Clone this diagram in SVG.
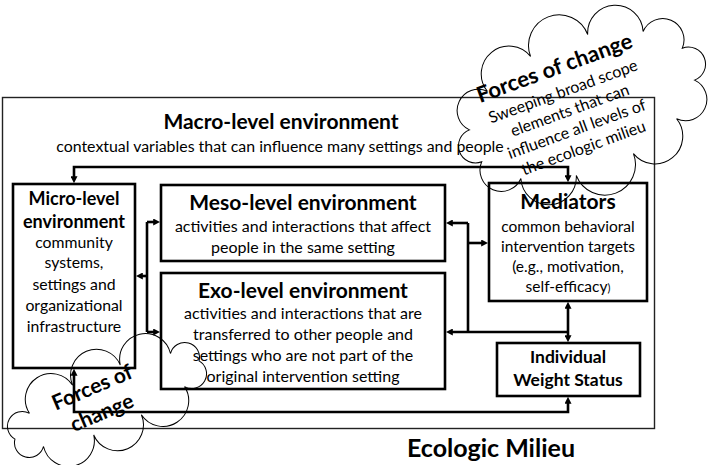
<svg xmlns="http://www.w3.org/2000/svg" width="709" height="465" viewBox="0 0 709 465">
<style>
text{font-family:Lato,"Liberation Sans",sans-serif;fill:#000;text-anchor:middle}
.h{font-weight:bold;font-size:21px}
.s{font-size:15.9px}
.m{font-size:16px}
.md{font-size:15.5px}
.mc{font-size:15.8px}
.hm{font-weight:bold;font-size:18px}
.box{fill:#fff;stroke:#000;stroke-width:2.6}
.con{fill:none;stroke:#000;stroke-width:2.6}
.cloud{fill:none;stroke:#000;stroke-width:1}
</style>
<defs>
<marker id="ah" viewBox="0 0 10 10" refX="4" refY="5" markerWidth="7" markerHeight="7" markerUnits="userSpaceOnUse" orient="auto-start-reverse">
<path d="M0,0 L10,5 L0,10 z" fill="#000"/>
</marker>
</defs>
<rect width="709" height="465" fill="#fff"/>

<g id="ecologic-milieu">
<rect x="2.5" y="97.5" width="652" height="331" fill="none" stroke="#222" stroke-width="1.4"/>
<text x="491" y="457" style="font-weight:bold;font-size:25px">Ecologic Milieu</text>
</g>

<g id="macro">
<text class="h" x="281" y="129">Macro-level environment</text>
<text class="s" x="280" y="152">contextual variables that can influence many settings and people</text>
</g>

<g id="micro">
<rect class="box" x="13" y="184" width="122" height="184"/>
<text class="hm" x="74" y="205">Micro-level</text>
<text class="hm" x="74" y="228">environment</text>
<text class="mc" x="74" y="248">community</text>
<text class="mc" x="74" y="268">systems,</text>
<text class="mc" x="74" y="290">settings and</text>
<text class="mc" x="74" y="311">organizational</text>
<text class="mc" x="74" y="332">infrastructure</text>
</g>

<g id="meso">
<rect class="box" x="161" y="185" width="284" height="76"/>
<text class="h" x="303" y="210">Meso-level environment</text>
<text class="m" x="303" y="232">activities and interactions that affect</text>
<text class="m" x="303" y="253">people in the same setting</text>
</g>

<g id="exo">
<rect class="box" x="161" y="273" width="284" height="116"/>
<text class="h" x="303" y="298">Exo-level environment</text>
<text class="m" x="303" y="319">activities and interactions that are</text>
<text class="m" x="303" y="340">transferred to other people and</text>
<text class="m" x="303" y="361">settings who are not part of the</text>
<text class="m" x="303" y="382">original intervention setting</text>
</g>

<g id="mediators">
<rect class="box" x="489" y="183" width="158" height="118"/>
<text class="h" x="568" y="209">Mediators</text>
<text class="md" x="568" y="232">common behavioral</text>
<text class="md" x="568" y="252">intervention targets</text>
<text class="md" x="568" y="272">(e.g., motivation,</text>
<text class="md" x="568" y="292">self-efficacy<tspan style="font-size:11px">)</tspan></text>
</g>

<g id="weight-status">
<rect class="box" x="497" y="343" width="143" height="53"/>
<text class="hm" x="568" y="363" style="font-size:17.5px">Individual</text>
<text class="hm" x="568" y="386" style="font-size:17.5px">Weight Status</text>
</g>

<g id="connectors">
<path class="con" d="M300,167 H74 V179" marker-end="url(#ah)"/>
<path class="con" d="M300,167 H568 V178" marker-end="url(#ah)"/>
<path class="con" d="M147,222 V332"/>
<path class="con" d="M147,222 H156" marker-end="url(#ah)"/>
<path class="con" d="M147,332 H156" marker-end="url(#ah)"/>
<path class="con" d="M147,276 H140" marker-end="url(#ah)"/>
<path class="con" d="M468,223 V332"/>
<path class="con" d="M468,223 H450" marker-end="url(#ah)"/>
<path class="con" d="M468,243 H484" marker-end="url(#ah)"/>
<path class="con" d="M568,332 H450" marker-end="url(#ah)"/>
<path class="con" d="M568,306 V338" marker-start="url(#ah)" marker-end="url(#ah)"/>
<path class="con" d="M74,373 V412 H568 V401" marker-start="url(#ah)" marker-end="url(#ah)"/>
</g>

<g id="forces-top">
<path class="cloud" transform="translate(582,105) rotate(-21)" d="M114,17.1 A1,1 0 0 1 83.4,46.7 A1,1 0 0 1 30.6,63.8 A1,1 0 0 1 -30.6,63.8 A1,1 0 0 1 -83.4,46.7 A1,1 0 0 1 -114,17.1 A1,1 0 0 1 -114,-17.1 A1,1 0 0 1 -83.4,-46.7 A1,1 0 0 1 -30.6,-63.8 A1,1 0 0 1 30.6,-63.8 A1,1 0 0 1 83.4,-46.7 A1,1 0 0 1 114,-17.1 A1,1 0 0 1 114,17.1 Z"/>
<g transform="translate(557,75) rotate(-20)">
<text class="h" x="0" y="0" style="font-size:22px">Forces of change</text>
<text x="0" y="23" style="font-size:16px">Sweeping broad scope</text>
<text x="0" y="43" style="font-size:16px">elements that can</text>
<text x="0" y="63" style="font-size:16px">influence all levels of</text>
<text x="0" y="83" style="font-size:16px">the ecologic milieu</text>
</g>
</g>

<g id="forces-bottom">
<path class="cloud" transform="translate(107,400) rotate(-23)" d="M100,0 A1,1 0 0 1 76.6,18 A1,1 0 0 1 25.9,27 A1,1 0 0 1 -25.9,27 A1,1 0 0 1 -76.6,18 A1,1 0 0 1 -100,0 A1,1 0 0 1 -76.6,-18 A1,1 0 0 1 -25.9,-27 A1,1 0 0 1 25.9,-27 A1,1 0 0 1 76.6,-18 A1,1 0 0 1 100,0 Z"/>
<g transform="translate(95,394) rotate(-23)">
<text class="h" x="0" y="0">Forces of</text>
<text class="h" x="-1" y="27">change</text>
</g>
</g>
</svg>
